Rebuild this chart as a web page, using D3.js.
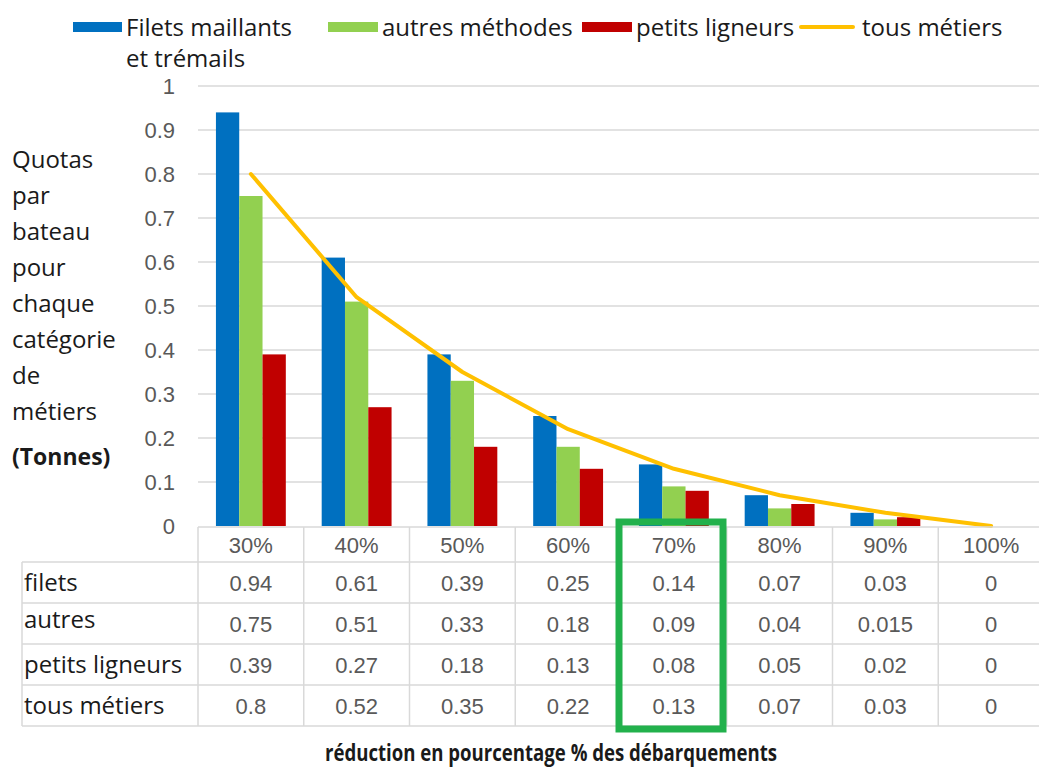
<!DOCTYPE html>
<html>
<head>
<meta charset="utf-8">
<script src="https://cdn.jsdelivr.net/npm/d3@7"></script>
<style>
  body { margin: 0; background: #fff; }
  svg { display: block; }
</style>
</head>
<body>
<svg id="chart"></svg>
<script>
// data
const categories = ['30%', '40%', '50%', '60%', '70%', '80%', '90%', '100%'];
const filets = [0.94, 0.61, 0.39, 0.25, 0.14, 0.07, 0.03, 0];
const autres = [0.75, 0.51, 0.33, 0.18, 0.09, 0.04, 0.015, 0];
const ligneurs = [0.39, 0.27, 0.18, 0.13, 0.08, 0.05, 0.02, 0];
const tous = [0.8, 0.52, 0.35, 0.22, 0.13, 0.07, 0.03, 0];
const yTicks = [0, 0.1, 0.2, 0.3, 0.4, 0.5, 0.6, 0.7, 0.8, 0.9, 1];

const barSeries = [
  { key: 'filets', values: filets, color: '#0070c0' },
  { key: 'autres', values: autres, color: '#92d050' },
  { key: 'ligneurs', values: ligneurs, color: '#c00000' }
];
const tableRows = [
  { label: 'filets', values: filets, dy: 0 },
  { label: 'autres', values: autres, dy: -4 },
  { label: 'petits ligneurs', values: ligneurs, dy: 0 },
  { label: 'tous métiers', values: tous, dy: 0 }
];

const W = 1039, H = 769;
const sans = "'Open Sans', 'Noto Sans', sans-serif";
const arial = "'Liberation Sans', Arial, sans-serif";

const svg = d3.select('#chart')
    .attr('width', W)
    .attr('height', H);

// scales
const x0 = d3.scaleBand().domain(categories).range([198, 1044]);
const x1 = d3.scaleBand().domain(barSeries.map(d => d.key))
    .range([0, x0.bandwidth()]).paddingOuter(0.77);
const y = d3.scaleLinear().domain([0, 1]).range([526, 86]);

// gridlines
svg.append('g')
    .selectAll('line')
    .data(yTicks.filter(t => t > 0))
    .join('line')
    .attr('x1', 198).attr('x2', W)
    .attr('y1', d => y(d)).attr('y2', d => y(d))
    .attr('stroke', '#d9d9d9')
    .attr('stroke-width', 1.3);

// y axis labels
const yAxis = d3.axisLeft(y).tickValues(yTicks).tickFormat(d3.format('')).tickSize(0).tickPadding(0);
const gy = svg.append('g')
    .attr('transform', 'translate(175,0)')
    .call(yAxis);
gy.select('.domain').remove();
gy.selectAll('text')
    .attr('fill', '#595959')
    .attr('dy', '0.36em')
    .style('font-family', arial)
    .style('font-size', '22px');

// bars
const groups = svg.append('g')
    .selectAll('g')
    .data(barSeries)
    .join('g')
    .attr('fill', d => d.color);
groups.selectAll('rect')
    .data(s => s.values.map((v, i) => ({ key: s.key, cat: categories[i], v })))
    .join('rect')
    .attr('x', d => x0(d.cat) + x1(d.key))
    .attr('width', x1.bandwidth())
    .attr('y', d => y(d.v))
    .attr('height', d => y(0) - y(d.v));

// line "tous métiers"
const line = d3.line()
    .x((d, i) => x0(categories[i]) + x0.bandwidth() / 2)
    .y(d => y(d));
svg.append('path')
    .datum(tous)
    .attr('d', line)
    .attr('fill', 'none')
    .attr('stroke', '#ffc000')
    .attr('stroke-width', 4)
    .attr('stroke-linejoin', 'round')
    .attr('stroke-linecap', 'round');

// data table
const grid = '#d9d9d9';
const headTop = 527, headBottom = 562, rowH = 41;
const table = svg.append('g');
table.append('line')
    .attr('x1', 198).attr('x2', W).attr('y1', headTop).attr('y2', headTop)
    .attr('stroke', grid).attr('stroke-width', 1.5);
tableRows.forEach((r, i) => {
  const yy = headBottom + i * rowH;
  table.append('line')
      .attr('x1', 22).attr('x2', W).attr('y1', yy).attr('y2', yy)
      .attr('stroke', grid).attr('stroke-width', 1.5);
});
const tableBottom = headBottom + tableRows.length * rowH;
table.append('line')
    .attr('x1', 22).attr('x2', W).attr('y1', tableBottom).attr('y2', tableBottom)
    .attr('stroke', grid).attr('stroke-width', 1.5);
table.append('line')
    .attr('x1', 22).attr('x2', 22).attr('y1', headBottom).attr('y2', tableBottom)
    .attr('stroke', grid).attr('stroke-width', 1.5);
table.selectAll('line.col')
    .data(categories.concat(['end']))
    .join('line')
    .attr('class', 'col')
    .attr('x1', (d, i) => 198 + i * x0.bandwidth())
    .attr('x2', (d, i) => 198 + i * x0.bandwidth())
    .attr('y1', headTop).attr('y2', tableBottom)
    .attr('stroke', grid).attr('stroke-width', 1.5);

// header
table.selectAll('text.head')
    .data(categories)
    .join('text')
    .attr('class', 'head')
    .attr('x', d => x0(d) + x0.bandwidth() / 2)
    .attr('y', (headTop + headBottom) / 2 + 8)
    .attr('text-anchor', 'middle')
    .attr('fill', '#595959')
    .style('font-family', arial)
    .style('font-size', '22px')
    .text(d => d);

// rows
tableRows.forEach((r, i) => {
  const cy = headBottom + i * rowH + rowH / 2;
  table.append('text')
      .attr('x', 24)
      .attr('y', cy + 8 + r.dy)
      .attr('fill', '#1a1a1a')
      .style('font-family', sans)
      .style('font-size', '24px')
      .text(r.label);
  table.selectAll('text.r' + i)
      .data(r.values)
      .join('text')
      .attr('class', 'r' + i)
      .attr('x', (d, j) => x0(categories[j]) + x0.bandwidth() / 2)
      .attr('y', cy + 8)
      .attr('text-anchor', 'middle')
      .attr('fill', '#595959')
      .style('font-family', arial)
      .style('font-size', '22px')
      .text(d => String(d));
});

// green highlight box around 70%
svg.append('rect')
    .attr('x', 619)
    .attr('y', 522)
    .attr('width', 104)
    .attr('height', 207)
    .attr('fill', 'none')
    .attr('stroke', '#22b14c')
    .attr('stroke-width', 7);

// y axis title
const yTitle = ['Quotas', 'par', 'bateau', 'pour', 'chaque', 'catégorie', 'de', 'métiers'];
svg.append('g')
    .selectAll('text')
    .data(yTitle)
    .join('text')
    .attr('x', 12)
    .attr('y', (d, i) => 168 + i * 36)
    .attr('fill', '#1a1a1a')
    .style('font-family', sans)
    .style('font-size', '24px')
    .text(d => d);
svg.append('text')
    .attr('x', 12)
    .attr('y', 465)
    .attr('fill', '#1a1a1a')
    .style('font-family', sans)
    .style('font-size', '23px')
    .style('font-weight', 'bold')
    .text('(Tonnes)');

// x axis title
svg.append('text')
    .attr('x', 325)
    .attr('y', 761)
    .attr('textLength', 452)
    .attr('lengthAdjust', 'spacingAndGlyphs')
    .attr('fill', '#1a1a1a')
    .style('font-family', sans)
    .style('font-size', '24px')
    .style('font-weight', 'bold')
    .text('réduction en pourcentage % des débarquements');

// legend
const legend = svg.append('g').style('font-family', sans).style('font-size', '24px').attr('fill', '#1a1a1a');
const legendItems = [
  { label: 'Filets maillants', x: 73, w: 49, color: '#0070c0', type: 'rect' },
  { label: 'autres méthodes', x: 328, w: 50, color: '#92d050', type: 'rect' },
  { label: 'petits ligneurs', x: 582, w: 50, color: '#c00000', type: 'rect' },
  { label: 'tous métiers', x: 801, w: 52, color: '#ffc000', type: 'line' }
];
legendItems.forEach(d => {
  if (d.type === 'rect') {
    legend.append('rect')
        .attr('x', d.x).attr('y', 22).attr('width', d.w).attr('height', 10)
        .attr('fill', d.color);
  } else {
    legend.append('line')
        .attr('x1', d.x).attr('x2', d.x + d.w).attr('y1', 27).attr('y2', 27)
        .attr('stroke', d.color).attr('stroke-width', 4).attr('stroke-linecap', 'round');
  }
  legend.append('text')
      .attr('x', d.x + d.w + (d.type === 'line' ? 9 : 4))
      .attr('y', 36)
      .text(d.label);
});
legend.append('text')
    .attr('x', 126)
    .attr('y', 67)
    .text('et trémails');
</script>
</body>
</html>
